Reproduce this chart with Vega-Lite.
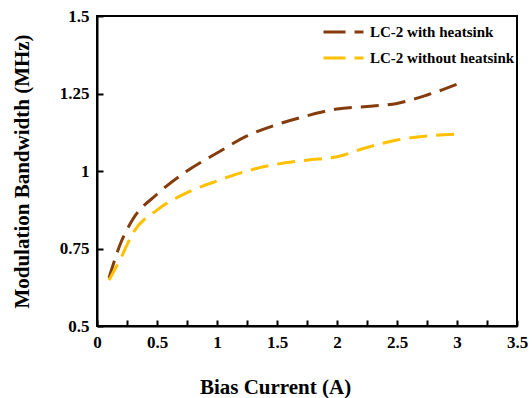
{
  "$schema": "https://vega.github.io/schema/vega-lite/v6.json",
  "autosize": "none",
  "width": 420,
  "height": 310,
  "padding": {"left": 97, "top": 16, "right": 15, "bottom": 72},
  "background": "white",
  "config": {
    "view": {"stroke": "black", "strokeWidth": 2},
    "font": "Liberation Serif",
    "axis": {
      "domainColor": "black", "domainWidth": 2, "tickColor": "black", "tickWidth": 2,
      "grid": false, "labelFont": "Liberation Serif", "labelFontWeight": "bold",
      "labelFontSize": 17, "labelColor": "black", "titleFont": "Liberation Serif",
      "titleFontWeight": "bold", "titleFontSize": 21, "titleColor": "black"
    }
  },
  "data": {"values": [
    {"x": 0.1, "y": 0.655, "s": "LC-2 with heatsink"},
    {"x": 0.2, "y": 0.77, "s": "LC-2 with heatsink"},
    {"x": 0.3, "y": 0.845, "s": "LC-2 with heatsink"},
    {"x": 0.5, "y": 0.925, "s": "LC-2 with heatsink"},
    {"x": 0.75, "y": 1.0, "s": "LC-2 with heatsink"},
    {"x": 1.0, "y": 1.058, "s": "LC-2 with heatsink"},
    {"x": 1.25, "y": 1.113, "s": "LC-2 with heatsink"},
    {"x": 1.5, "y": 1.15, "s": "LC-2 with heatsink"},
    {"x": 1.75, "y": 1.178, "s": "LC-2 with heatsink"},
    {"x": 2.0, "y": 1.2, "s": "LC-2 with heatsink"},
    {"x": 2.25, "y": 1.208, "s": "LC-2 with heatsink"},
    {"x": 2.5, "y": 1.218, "s": "LC-2 with heatsink"},
    {"x": 2.75, "y": 1.245, "s": "LC-2 with heatsink"},
    {"x": 3.0, "y": 1.28, "s": "LC-2 with heatsink"},
    {"x": 0.1, "y": 0.648, "s": "LC-2 without heatsink"},
    {"x": 0.2, "y": 0.72, "s": "LC-2 without heatsink"},
    {"x": 0.3, "y": 0.8, "s": "LC-2 without heatsink"},
    {"x": 0.5, "y": 0.874, "s": "LC-2 without heatsink"},
    {"x": 0.75, "y": 0.93, "s": "LC-2 without heatsink"},
    {"x": 1.0, "y": 0.968, "s": "LC-2 without heatsink"},
    {"x": 1.25, "y": 1.0, "s": "LC-2 without heatsink"},
    {"x": 1.5, "y": 1.022, "s": "LC-2 without heatsink"},
    {"x": 1.75, "y": 1.035, "s": "LC-2 without heatsink"},
    {"x": 2.0, "y": 1.046, "s": "LC-2 without heatsink"},
    {"x": 2.25, "y": 1.076, "s": "LC-2 without heatsink"},
    {"x": 2.5, "y": 1.1, "s": "LC-2 without heatsink"},
    {"x": 2.75, "y": 1.113, "s": "LC-2 without heatsink"},
    {"x": 3.0, "y": 1.119, "s": "LC-2 without heatsink"}
  ]},
  "mark": {"type": "line", "interpolate": "monotone", "strokeWidth": 3, "strokeDash": [18, 9]},
  "encoding": {
    "x": {
      "field": "x", "type": "quantitative",
      "scale": {"domain": [0, 3.5], "nice": false},
      "axis": {
        "title": "Bias Current (A)",
        "titleX": 178,
        "values": [0, 0.25, 0.5, 0.75, 1, 1.25, 1.5, 1.75, 2, 2.25, 2.5, 2.75, 3, 3.25, 3.5],
        "labelExpr": "(datum.value * 2) % 1 == 0 ? '' + datum.value : ''",
        "tickSize": -6, "labelPadding": 14, "titlePadding": 26, "labelFlush": false
      }
    },
    "y": {
      "field": "y", "type": "quantitative",
      "scale": {"domain": [0.5, 1.5], "nice": false, "zero": false},
      "axis": {
        "title": "Modulation Bandwidth (MHz)",
        "values": [0.5, 0.75, 1, 1.25, 1.5],
        "labelExpr": "'' + datum.value",
        "tickSize": -6, "labelPadding": 14, "titlePadding": 27, "labelFlush": false
      }
    },
    "color": {
      "field": "s", "type": "nominal",
      "scale": {"domain": ["LC-2 with heatsink", "LC-2 without heatsink"], "range": ["#843C0C", "#FFC000"]},
      "legend": {
        "title": null, "orient": "none", "legendX": 225, "legendY": 9, "padding": 0,
        "symbolType": "stroke", "symbolSize": 1600, "symbolStrokeWidth": 3, "symbolDash": [22, 9],
        "clipHeight": 14,
        "labelFont": "Liberation Serif", "labelFontWeight": "bold", "labelFontSize": 15,
        "labelColor": "black", "rowPadding": 11, "labelOffset": 5
      }
    }
  }
}
